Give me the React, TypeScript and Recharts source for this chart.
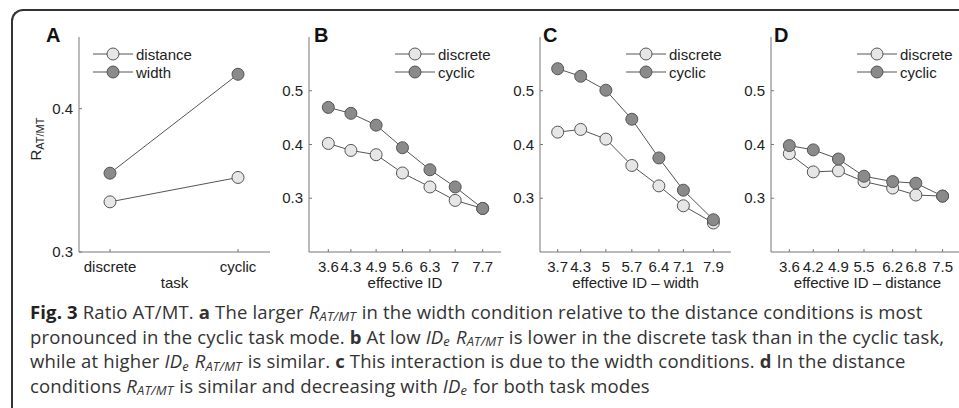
import React from 'react';
import { LineChart, Line, XAxis, YAxis, Legend } from 'recharts';

// panel A: task mode
const tasks = ['discrete', 'cyclic'];
const distanceA = [0.335, 0.352];
const widthA = [0.355, 0.424];

// panel B: effective ID (positions, labels as printed)
const idB = [3.6, 4.2, 4.87, 5.57, 6.3, 6.97, 7.7];
const labelsB = ['3.6', '4.3', '4.9', '5.6', '6.3', '7', '7.7'];
const discreteB = [0.402, 0.389, 0.381, 0.347, 0.321, 0.296, 0.281];
const cyclicB = [0.469, 0.458, 0.436, 0.394, 0.353, 0.321, 0.281];

// panel C: effective ID - width
const idC = [3.7, 4.32, 5.0, 5.7, 6.43, 7.09, 7.9];
const labelsC = ['3.7', '4.3', '5', '5.7', '6.4', '7.1', '7.9'];
const discreteC = [0.423, 0.428, 0.41, 0.361, 0.323, 0.286, 0.254];
const cyclicC = [0.541, 0.527, 0.501, 0.447, 0.375, 0.315, 0.26];

// panel D: effective ID - distance
const idD = [3.6, 4.21, 4.85, 5.5, 6.23, 6.82, 7.5];
const labelsD = ['3.6', '4.2', '4.9', '5.5', '6.2', '6.8', '7.5'];
const discreteD = [0.383, 0.349, 0.351, 0.331, 0.319, 0.306, 0.304];
const cyclicD = [0.398, 0.39, 0.373, 0.341, 0.331, 0.328, 0.304];

const ticksA = [0.3, 0.4];
const ticksBCD = [0.3, 0.4, 0.5];

const FONT = '"Liberation Sans", Arial, Helvetica, sans-serif';
const INK = '#222';
const AXIS = '#777';
const LINE = '#555';
const LIGHT = '#e6e6e6';
const DARK = '#8a8a8a';

const rowsA = tasks.map((task, i) => ({ task, distance: distanceA[i], width: widthA[i] }));
const toRows = (ids: number[], d: number[], c: number[]) =>
  ids.map((id, i) => ({ id, discrete: d[i], cyclic: c[i] }));

const XTick = ({ x, y, payload, ids, labels }: any) => {
  const i = ids ? ids.indexOf(payload.value) : -1;
  const text = i >= 0 && labels ? labels[i] : String(payload.value);
  return (
    <g>
      <line x1={x} x2={x} y1={y} y2={y - 3} stroke={AXIS} />
      <text x={x} y={y + 20} textAnchor="middle" fill={INK} fontSize={15} fontFamily={FONT}>
        {text}
      </text>
    </g>
  );
};

const YTick = ({ x, y, payload }: any) => (
  <g>
    <line x1={x} x2={x + 3} y1={y} y2={y} stroke={AXIS} />
    <text x={x - 6} y={y + 5} textAnchor="end" fill={INK} fontSize={15} fontFamily={FONT}>
      {Number(payload.value).toFixed(1)}
    </text>
  </g>
);

const legendContent = (items: { label: string; fill: string }[]) => () => (
  <div style={{ fontFamily: FONT, fontSize: 15, color: INK }}>
    {items.map((it) => (
      <div key={it.label} style={{ display: 'flex', alignItems: 'center', height: 18 }}>
        <svg width={40} height={18}>
          <line x1={0} x2={40} y1={9} y2={9} stroke={LINE} />
          <circle cx={20} cy={9} r={6} fill={it.fill} stroke={LINE} />
        </svg>
        <span style={{ marginLeft: 3 }}>{it.label}</span>
      </div>
    ))}
  </div>
);

const dot = (fill: string) => ({ r: 6, fill, stroke: LINE, strokeWidth: 1 });

type PanelProps = {
  left: number;
  width: number;
  ml: number;
  mr: number;
  data: any[];
  xKey: string;
  numeric: boolean;
  xDomain?: number[];
  xTicks?: number[];
  xLabels?: string[];
  yDomain: number[];
  yTicks: number[];
  xLabel: string;
  keys: [string, string];
  legendLeft: number;
};

const Panel = (p: PanelProps) => (
  <div style={{ position: 'absolute', left: p.left, top: 0 }}>
    <LineChart
      width={p.width}
      height={300}
      data={p.data}
      margin={{ top: 37, right: p.mr, bottom: 8, left: p.ml }}
      style={{ fontFamily: FONT }}
    >
      {p.numeric ? (
        <XAxis
          dataKey={p.xKey}
          type="number"
          domain={p.xDomain}
          ticks={p.xTicks}
          interval={0}
          height={40}
          tickSize={0}
          tickMargin={0}
          tick={<XTick ids={p.xTicks} labels={p.xLabels} />}
          axisLine={{ stroke: AXIS }}
          label={{ value: p.xLabel, position: 'insideBottom', offset: 4, fill: INK, fontSize: 15 }}
        />
      ) : (
        <XAxis
          dataKey={p.xKey}
          type="category"
          padding={{ left: 31, right: 32 }}
          interval={0}
          height={40}
          tickSize={0}
          tickMargin={0}
          tick={<XTick />}
          axisLine={{ stroke: AXIS }}
          label={{ value: p.xLabel, position: 'insideBottom', offset: 4, fill: INK, fontSize: 15 }}
        />
      )}
      <YAxis
        type="number"
        domain={p.yDomain}
        ticks={p.yTicks}
        interval={0}
        width={40}
        tickSize={0}
        tickMargin={0}
        tick={<YTick />}
        axisLine={{ stroke: AXIS }}
      />
      <Legend
        layout="vertical"
        align="center"
        verticalAlign="middle"
        wrapperStyle={{ left: p.legendLeft, top: 45, width: 'auto' }}
        content={legendContent([
          { label: p.keys[0], fill: LIGHT },
          { label: p.keys[1], fill: DARK },
        ])}
      />
      <Line
        type="linear"
        dataKey={p.keys[0]}
        stroke={LINE}
        strokeWidth={1}
        dot={dot(LIGHT)}
        activeDot={false}
        isAnimationActive={false}
      />
      <Line
        type="linear"
        dataKey={p.keys[1]}
        stroke={LINE}
        strokeWidth={1}
        dot={dot(DARK)}
        activeDot={false}
        isAnimationActive={false}
      />
    </LineChart>
  </div>
);

const letterStyle = (left: number): React.CSSProperties => ({
  position: 'absolute',
  left,
  top: 25,
  fontFamily: FONT,
  fontWeight: 'bold',
  fontSize: 20,
  lineHeight: '20px',
  color: '#111',
});

const subStyle: React.CSSProperties = {
  fontSize: '0.7em',
  lineHeight: 0,
  verticalAlign: '-0.18em',
  marginRight: 1,
};

const R = () => (
  <i>
    R<span style={subStyle}>AT/MT</span>
  </i>
);
const ID = () => (
  <i>
    ID<span style={subStyle}>e</span>
  </i>
);

export default function App() {
  return (
    <div
      style={{
        position: 'absolute',
        left: 0,
        top: 0,
        width: 959,
        height: 408,
        overflow: 'hidden',
        background: '#fff',
      }}
    >
      <div
        style={{
          position: 'absolute',
          left: 11,
          top: 9,
          width: 1100,
          height: 600,
          borderLeft: '2px solid #333',
          borderTop: '2px solid #333',
          borderTopLeftRadius: 12,
        }}
      />
      <Panel
        left={0}
        width={280}
        ml={39}
        mr={10}
        data={rowsA}
        xKey="task"
        numeric={false}
        yDomain={[0.3, 0.45]}
        yTicks={ticksA}
        xLabel="task"
        keys={['distance', 'width']}
        legendLeft={93}
      />
      <Panel
        left={260}
        width={250}
        ml={9}
        mr={9}
        data={toRows(idB, discreteB, cyclicB)}
        xKey="id"
        numeric
        xDomain={[3.087, 8.187]}
        xTicks={idB}
        xLabels={labelsB}
        yDomain={[0.2, 0.6]}
        yTicks={ticksBCD}
        xLabel="effective ID"
        keys={['discrete', 'cyclic']}
        legendLeft={135}
      />
      <Panel
        left={495}
        width={245}
        ml={5}
        mr={9}
        data={toRows(idC, discreteC, cyclicC)}
        xKey="id"
        numeric
        xDomain={[3.223, 8.375]}
        xTicks={idC}
        xLabels={labelsC}
        yDomain={[0.2, 0.6]}
        yTicks={ticksBCD}
        xLabel="effective ID – width"
        keys={['discrete', 'cyclic']}
        legendLeft={131}
      />
      <Panel
        left={725}
        width={245}
        ml={6}
        mr={6}
        data={toRows(idD, discreteD, cyclicD)}
        xKey="id"
        numeric
        xDomain={[3.134, 8.045]}
        xTicks={idD}
        xLabels={labelsD}
        yDomain={[0.2, 0.6]}
        yTicks={ticksBCD}
        xLabel="effective ID – distance"
        keys={['discrete', 'cyclic']}
        legendLeft={132}
      />

      <div style={letterStyle(46)}>A</div>
      <div style={letterStyle(314)}>B</div>
      <div style={letterStyle(543)}>C</div>
      <div style={letterStyle(774)}>D</div>

      <div
        style={{
          position: 'absolute',
          left: 35,
          top: 139,
          transform: 'translate(-50%, -50%) rotate(-90deg)',
          fontFamily: FONT,
          fontSize: 15,
          lineHeight: '15px',
          color: INK,
          whiteSpace: 'nowrap',
        }}
      >
        R<span style={{ fontSize: 11, lineHeight: 0, verticalAlign: '-0.3em' }}>AT/MT</span>
      </div>

      <div
        style={{
          position: 'absolute',
          left: 30,
          top: 300,
          fontFamily: '"Open Sans", "Noto Sans", sans-serif',
          fontSize: 18.5,
          letterSpacing: 0.15,
          lineHeight: '24.7px',
          color: '#333',
          whiteSpace: 'nowrap',
        }}
      >
        <b style={{ color: '#222' }}>Fig. 3</b> Ratio AT/MT. <b>a</b> The larger <R /> in the width condition
        relative to the distance conditions is most
        <br />
        pronounced in the cyclic task mode. <b>b</b> At low <ID /> <R /> is lower in the discrete task than in the
        cyclic task,
        <br />
        while at higher <ID /> <R /> is similar. <b>c</b> This interaction is due to the width conditions.{' '}
        <b>d</b> In the distance
        <br />
        conditions <R /> is similar and decreasing with <ID /> for both task modes
      </div>
    </div>
  );
}
